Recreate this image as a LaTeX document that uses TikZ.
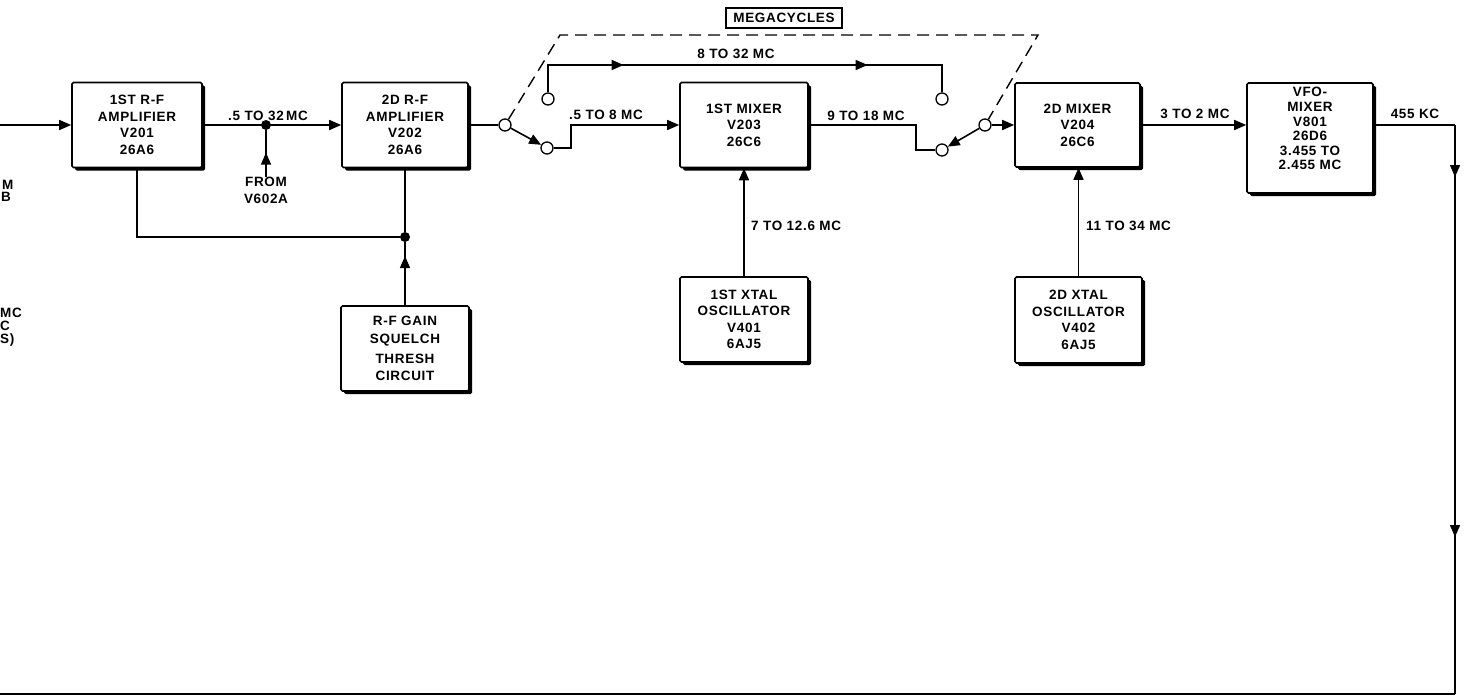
\documentclass[tikz,border=0pt]{standalone}
\usepackage{fontspec}
\setmainfont{Liberation Sans}[LetterSpace=5]
\usetikzlibrary{arrows.meta,shadows,decorations.markings}
\newcommand\dfont{\fontsize{13.5}{16.5}\selectfont\bfseries}
\newcommand\vfont{\fontsize{13.5}{14.6}\selectfont\bfseries}
\tikzset{
 conn/.style={line width=1.6pt},
 arr/.style={conn,-{Triangle[length=12pt,width=10pt]}},
 box/.style={draw, line width=1.6pt, fill=white, rounded corners=1.5pt, align=center, inner sep=0pt, font=\dfont,
   drop shadow={shadow xshift=3pt, shadow yshift=-3pt, opacity=1, fill=black}},
 sw/.style={circle, draw, line width=1.3pt, fill=white, minimum size=12pt, inner sep=0pt},
 jdot/.style={circle, fill=black, minimum size=10pt, inner sep=0pt},
 lbl/.style={font=\dfont, inner sep=0pt},
 linkage/.style={line width=1.4pt, dash pattern=on 12pt off 7pt},
 midarr/.style={postaction={decorate}, decoration={markings, mark=at position #1 with {\arrow{Triangle[length=12pt,width=10pt]}}}},
 twoarr/.style 2 args={postaction={decorate}, decoration={markings,
   mark=at position #1 with {\arrow{Triangle[length=12pt,width=10pt]}},
   mark=at position #2 with {\arrow{Triangle[length=12pt,width=10pt]}}}},
}
\begin{document}
\begin{tikzpicture}[x=1pt, y=-1pt]
\useasboundingbox (0,0) rectangle (1469,698);

% boxes
\node[box, minimum width=130pt, minimum height=85pt] (rf1) at (137,125) {1ST R-F\\AMPLIFIER\\V201\\26A6};
\node[box, minimum width=126pt, minimum height=85pt] (rf2) at (405,125) {2D R-F\\AMPLIFIER\\V202\\26A6};
\node[box, minimum width=128pt, minimum height=85pt] (gain) at (405,348.5) {R-F GAIN\\[2pt]SQUELCH\\[3pt]THRESH\\[1pt]CIRCUIT};
\node[box, minimum width=128pt, minimum height=85pt] (mix1) at (744,125) {1ST MIXER\\V203\\26C6};
\node[box, minimum width=128pt, minimum height=85pt] (x1) at (744,319.5) {1ST XTAL\\OSCILLATOR\\V401\\6AJ5};
\node[box, minimum width=125pt, minimum height=84pt] (mix2) at (1077.5,125) {2D MIXER\\V204\\26C6};
\node[box, minimum width=127pt, minimum height=86pt] (x2) at (1078.5,320) {2D XTAL\\OSCILLATOR\\V402\\6AJ5};
\node[box, minimum width=126pt, minimum height=110pt] (vfo) at (1310,138) {};
\node[lbl, align=center, anchor=north, font=\vfont] (vfot) at ([yshift=-5pt]vfo.north) {VFO-\\MIXER\\V801\\26D6\\3.455 TO\\2.455 MC};

% input and first stage
\coordinate (in) at (0,125);
\draw[arr] (in) -- (rf1.west);
\node[jdot] (j1) at (266,125) {};
\draw[arr] (rf1.east) -- (rf2.west);
\node[lbl, anchor=base] (l1) at (268,121) {.5 TO 32\,MC};
\node[lbl, align=center, anchor=north] (from) at (266,177) {FROM\\V602A};
\draw[conn, midarr=0.52] (from.north) -- (j1);

% gain feedback
\node[jdot] (j2) at (405,237) {};
\draw[conn] (rf1.south) |- (j2);
\draw[conn] (rf2.south) -- (j2);
\draw[conn, midarr=0.78] (gain.north) -- (j2);

% switch 1
\node[sw] (s1a) at (505,125) {};
\node[sw] (s1b) at (547,148) {};
\node[sw] (s1c) at (548,99) {};
\draw[conn] (rf2.east) -- (s1a);
\draw[arr] (s1a) -- (s1b);
\draw[arr] (s1b) -- ++(24,0) |- (mix1.west);
\node[lbl, anchor=base] (l2) at (606,120) {.5 TO 8 MC};

% switch 2
\node[sw] (s2a) at (985,125) {};
\node[sw] (s2b) at (942,150) {};
\node[sw] (s2c) at (942,99) {};
\draw[conn] (mix1.east) -- ++(107,0) |- (s2b);
\draw[arr] (s2a) -- (s2b);
\draw[arr] (s2a) -- (mix2.west);
\node[lbl, anchor=base] (l3) at (866,121) {9 TO 18 MC};

% bypass path
\draw[conn, twoarr={103pt}{347pt}] (s1c) -- ++(0,-34) -| (s2c);
\node[lbl, anchor=base] (l4) at (736,59) {8 TO 32 MC};

% ganged switch linkage
\draw[linkage] (s1a) -- ++(55,-90) -- ++(478,0) -- (s2a);
\node[draw, line width=1.3pt, lbl, minimum width=116pt, minimum height=20pt] (mega) at (784,18) {MEGACYCLES};

% oscillators
\draw[arr] (x1.north) -- (mix1.south);
\node[lbl, anchor=base west] (l5) at (751,230) {7 TO 12.6 MC};
\draw[arr] (x2.north) -- (x2.north |- mix2.south);
\node[lbl, anchor=base west] (l6) at (1086,230) {11 TO 34 MC};

% to vfo mixer
\draw[arr] (mix2.east) -- (mix2.east -| vfo.west);
\node[lbl, anchor=base] (l7) at (1195,119) {3 TO 2 MC};

% output loop
\coordinate (c1) at (1455,125);
\coordinate (c2) at (1455,694);
\coordinate (c3) at (0,694);
\draw[conn] (vfo.east |- mix2.east) -- (c1);
\draw[conn, twoarr={52pt}{412pt}] (c1) -- (c2);
\draw[conn] (c2) -- (c3);
\node[lbl, anchor=base] (l8) at (1415,119) {455 KC};

% partly visible texts at the left edge
\node[lbl, anchor=base west] (f1) at (2,189) {M};
\node[lbl, anchor=base west] (f2) at (1,201) {B};
\node[lbl, anchor=base west] (f3) at (0,317) {MC};
\node[lbl, anchor=base west] (f4) at (0,330) {C};
\node[lbl, anchor=base west] (f5) at (0,343) {S)};
\end{tikzpicture}
\end{document}
